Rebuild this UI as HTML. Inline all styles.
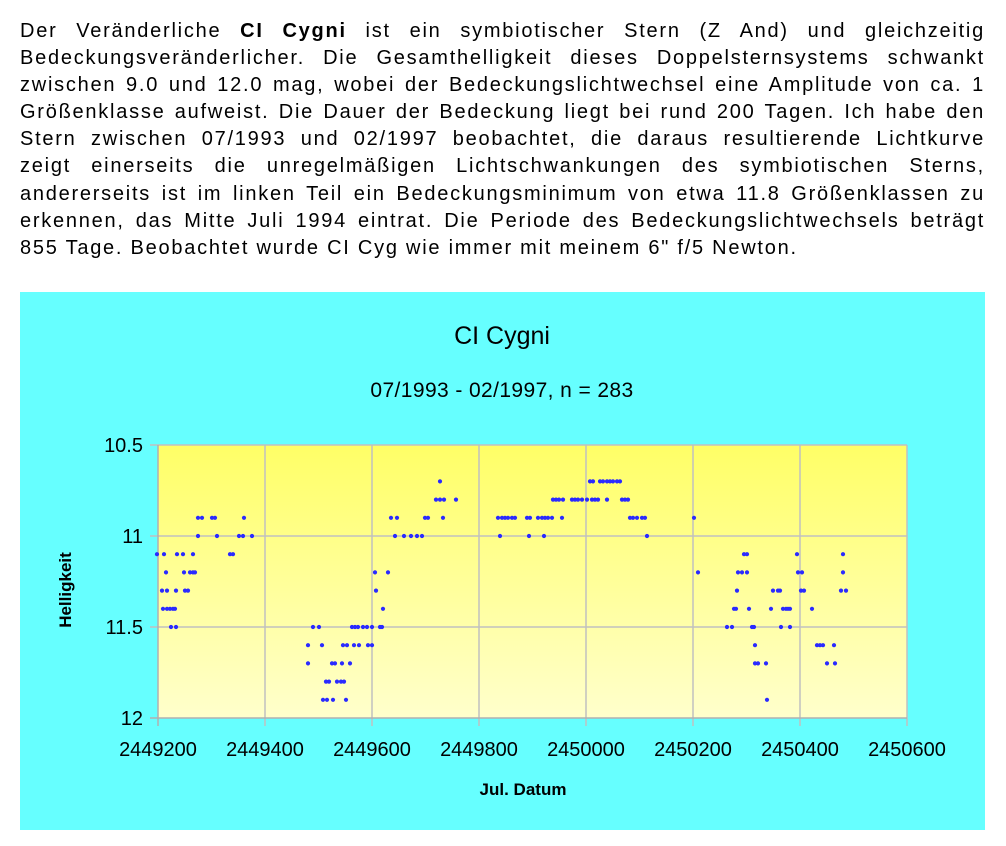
<!DOCTYPE html>
<html><head><meta charset="utf-8"><style>
html,body{margin:0;padding:0;background:#fff;width:1006px;height:846px;overflow:hidden}
#t{position:absolute;left:20px;top:18px;width:965px;font-family:"Liberation Sans",sans-serif;font-size:20px;line-height:27.1px;letter-spacing:1.75px;color:#000}
#t div{text-align:justify;text-align-last:justify;white-space:nowrap;height:27.1px}
#t div.l{text-align-last:left}
svg{position:absolute;left:0;top:0}
</style></head><body>
<div id="t">
<div>Der Veränderliche <b>CI Cygni</b> ist ein symbiotischer Stern (Z And) und gleichzeitig</div>
<div>Bedeckungsveränderlicher. Die Gesamthelligkeit dieses Doppelsternsystems schwankt</div>
<div>zwischen 9.0 und 12.0 mag, wobei der Bedeckungslichtwechsel eine Amplitude von ca. 1</div>
<div>Größenklasse aufweist. Die Dauer der Bedeckung liegt bei rund 200 Tagen. Ich habe den</div>
<div>Stern zwischen 07/1993 und 02/1997 beobachtet, die daraus resultierende Lichtkurve</div>
<div>zeigt einerseits die unregelmäßigen Lichtschwankungen des symbiotischen Sterns,</div>
<div>andererseits ist im linken Teil ein Bedeckungsminimum von etwa 11.8 Größenklassen zu</div>
<div>erkennen, das Mitte Juli 1994 eintrat. Die Periode des Bedeckungslichtwechsels beträgt</div>
<div class="l">855 Tage. Beobachtet wurde CI Cyg wie immer mit meinem 6" f/5 Newton.</div>
</div>
<svg width="1006" height="846" xmlns="http://www.w3.org/2000/svg" font-family="Liberation Sans, sans-serif">
<defs><linearGradient id="g" x1="0" y1="0" x2="0" y2="1"><stop offset="0" stop-color="#ffff66"/><stop offset="1" stop-color="#ffffcc"/></linearGradient></defs>
<rect x="20" y="292" width="965" height="538" fill="#66ffff"/>
<rect x="158" y="445" width="749" height="273" fill="url(#g)"/>
<g stroke="#c0c0c0" stroke-width="1.5">
<line x1="265" y1="445" x2="265" y2="726"/><line x1="372" y1="445" x2="372" y2="726"/><line x1="479" y1="445" x2="479" y2="726"/><line x1="586" y1="445" x2="586" y2="726"/><line x1="693" y1="445" x2="693" y2="726"/><line x1="800" y1="445" x2="800" y2="726"/><line x1="907" y1="445" x2="907" y2="726"/>
<line x1="150" y1="536" x2="907" y2="536"/><line x1="150" y1="627" x2="907" y2="627"/><line x1="150" y1="445" x2="907" y2="445"/>
<line x1="150" y1="718" x2="907" y2="718" stroke="#b0b0b0"/><line x1="158" y1="445" x2="158" y2="726" stroke="#b0b0b0"/>
</g>
<g font-size="20" fill="#000" text-anchor="end">
<text x="143" y="452">10.5</text><text x="143" y="543">11</text><text x="143" y="634">11.5</text><text x="143" y="725">12</text>
</g>
<g font-size="20" fill="#000" text-anchor="middle">
<text x="158" y="756">2449200</text><text x="265" y="756">2449400</text><text x="372" y="756">2449600</text><text x="479" y="756">2449800</text><text x="586" y="756">2450000</text><text x="693" y="756">2450200</text><text x="800" y="756">2450400</text><text x="907" y="756">2450600</text>
<text x="502" y="344" font-size="25">CI Cygni</text>
<text x="502" y="397" font-size="21" letter-spacing="0.4">07/1993 - 02/1997, n = 283</text>
<text x="523" y="795" font-size="17" font-weight="bold">Jul. Datum</text>
<text transform="translate(71,590) rotate(-90)" font-size="17" font-weight="bold">Helligkeit</text>
</g>
<g fill="#2a2aff" id="pts"></g>
</svg>
<script>
var rows={
10.7:[440,590,593,600,603,607,610,613,617,620],
10.8:[436,440,444,456,553,556,559,563,572,575,578,582,587,592,595,598,607,622,625,628],
10.9:[198,202,212,215,244,391,397,425,428,443,498,502,505,508,512,515,527,530,538,542,545,548,552,562,630,633,637,642,645,694],
11.0:[198,217,239,243,252,395,404,411,417,422,500,529,544,647],
11.1:[157,164,177,183,193,230,233,744,747,797,843],
11.2:[166,184,190,193,195,375,388,698,738,742,747,798,802,843],
11.3:[162,167,176,185,188,376,737,773,778,780,801,804,841,846],
11.4:[163,167,170,173,175,383,734,736,749,771,783,786,788,790,812],
11.5:[171,176,313,319,352,355,358,363,367,372,380,382,727,732,752,754,781,790],
11.6:[308,322,343,347,354,359,368,372,755,817,820,823,834],
11.7:[308,332,335,342,350,755,758,766,827,835],
11.8:[326,329,337,341,344],
11.9:[323,327,333,346,767]};
var g=document.getElementById('pts'),s='';
for(var m in rows){var y=445+(parseFloat(m)-10.5)*182;rows[m].forEach(function(x){s+='<circle cx="'+x+'" cy="'+y.toFixed(1)+'" r="2.1"/>';});}
g.innerHTML=s;
</script>
</body></html>
